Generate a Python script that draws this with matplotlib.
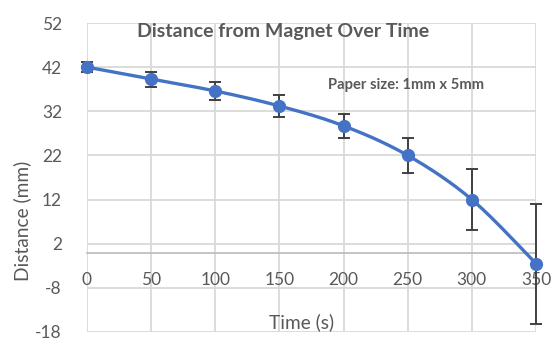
import matplotlib
matplotlib.use("Agg")
import matplotlib.pyplot as plt
import numpy as np

time_s = [0, 50, 100, 150, 200, 250, 300, 350]
distance_mm = [42.0, 39.3, 36.6, 33.2, 28.7, 22.0, 12.0, -2.5]
error_mm = [1.2, 1.7, 2.0, 2.4, 2.75, 3.9, 6.9, 13.6]
y_ticks = [-18, -8, 2, 12, 22, 32, 42, 52]
x_ticks = [0, 50, 100, 150, 200, 250, 300, 350]

plt.rcParams['font.family'] = ['Lato', 'DejaVu Sans']
plt.rcParams['axes.unicode_minus'] = False

fig = plt.figure(figsize=(5.51, 3.38), dpi=100)
ax = fig.add_axes([87/551, 1-332/338, (536-87)/551, (332-23)/338])

# smooth line (Catmull-Rom style cubic Bezier through the data points)
x = np.array(time_s, float); y = np.array(distance_mm, float)
xs, ys = [], []
n = len(x)
t = np.linspace(0, 1, 30)
for i in range(n - 1):
    p0 = np.array([x[max(i-1, 0)], y[max(i-1, 0)]])
    p1 = np.array([x[i], y[i]])
    p2 = np.array([x[i+1], y[i+1]])
    p3 = np.array([x[min(i+2, n-1)], y[min(i+2, n-1)]])
    c1 = p1 + (p2 - p0) / 6
    c2 = p2 - (p3 - p1) / 6
    b = ((1-t)**3)[:, None]*p1 + (3*(1-t)**2*t)[:, None]*c1 + (3*(1-t)*t**2)[:, None]*c2 + (t**3)[:, None]*p2
    xs.extend(b[:, 0]); ys.extend(b[:, 1])
ax.plot(xs, ys, color='#4472C4', lw=2.4, zorder=3, clip_on=False, solid_capstyle='round')
ax.errorbar(time_s, distance_mm, yerr=error_mm, fmt='none', ecolor='#404040',
            elinewidth=1.4, capsize=4, capthick=1.4, zorder=4, clip_on=False)
ax.plot(time_s, distance_mm, 'o', color='#4472C4', ms=8.5, zorder=5, clip_on=False)

ax.set_xlim(0, 350)
ax.set_ylim(-18, 52)
ax.set_xticks(x_ticks)
ax.set_yticks(y_ticks)
ax.grid(True, color='#D9D9D9', lw=1.3)
ax.set_axisbelow(True)
for s in ['top', 'right', 'left']:
    ax.spines[s].set_visible(False)
ax.spines['bottom'].set_position(('data', 0))
ax.spines['bottom'].set_color('#BFBFBF')
ax.spines['bottom'].set_linewidth(1.3)
ax.tick_params(axis='both', length=0, labelsize=12.5, labelcolor='#595959')
ax.tick_params(axis='x', pad=14)
ax.tick_params(axis='y', pad=18)

fig.text(22/551, 1-221/338, 'Distance (mm)', rotation=90, ha='center', va='center',
         fontsize=13.8, color='#595959')
fig.text(302/551, 1-322/338, 'Time (s)', ha='center', va='center',
         fontsize=13.8, color='#595959')
fig.text(283/551, 1-32/338, 'Distance from Magnet Over Time', ha='center', va='center',
         fontsize=14, fontweight='bold', color='#595959')
fig.text(406/551, 1-85/338, 'Paper size: 1mm x 5mm', ha='center', va='center',
         fontsize=10.6, fontweight='bold', color='#595959')

fig.savefig('out.png', dpi=100, facecolor='white')
